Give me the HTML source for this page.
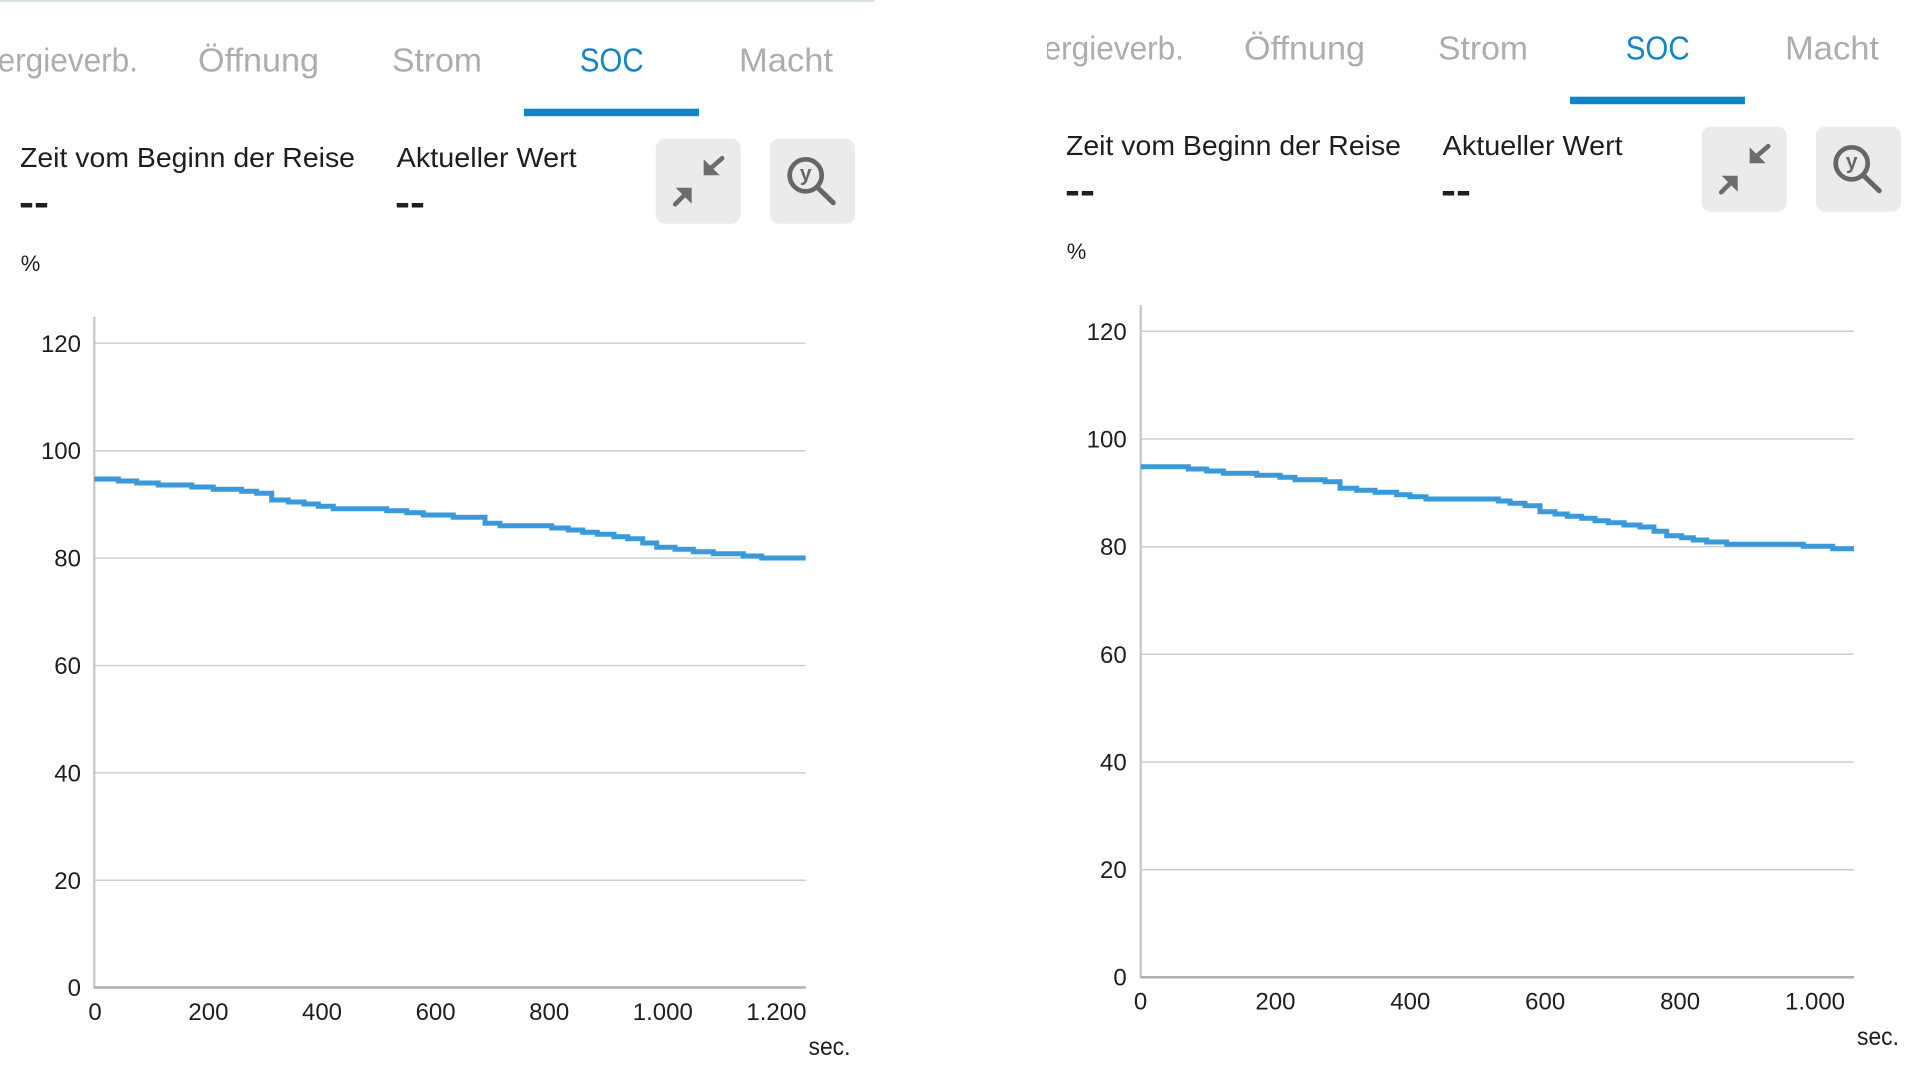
<!DOCTYPE html>
<html><head><meta charset="utf-8"><style>
html,body{margin:0;padding:0;background:#fff;}
svg{display:block;}
text{font-family:"Liberation Sans",sans-serif;}
</style></head><body>
<svg width="1920" height="1080" viewBox="0 0 1920 1080" xmlns="http://www.w3.org/2000/svg">
<defs>
<clipPath id="cl"><rect x="0" y="0" width="960" height="1080"/></clipPath>
<clipPath id="cr"><rect x="1047" y="0" width="873" height="1080"/></clipPath>
<g id="btns">
  <rect x="0" y="0" width="85" height="85" rx="9" fill="#ebebeb"/>
  <polygon points="48,20.5 48,36.5 64,36.5" fill="#6c6c6c"/>
  <line x1="52" y1="32" x2="66.5" y2="19.5" stroke="#6c6c6c" stroke-width="4.6" stroke-linecap="round"/>
  <polygon points="20,49 36,49 36,65" fill="#6c6c6c"/>
  <line x1="32" y1="53" x2="19.5" y2="65.5" stroke="#6c6c6c" stroke-width="4.6" stroke-linecap="round"/>
  <rect x="114.3" y="0" width="85" height="85" rx="9" fill="#ebebeb"/>
  <circle cx="150" cy="36.6" r="16" fill="none" stroke="#666" stroke-width="4.7"/>
  <line x1="162" y1="49" x2="177.5" y2="64" stroke="#666" stroke-width="5" stroke-linecap="round"/>
  <text x="150" y="42" font-size="21" font-weight="bold" fill="#666" text-anchor="middle">y</text>
</g>
</defs>
<rect width="1920" height="1080" fill="#fff"/>
<rect x="0" y="0" width="875" height="2" fill="#d8e6dc"/>

<!-- LEFT PANEL -->
<g clip-path="url(#cl)">
  <text x="-41" y="71.3" font-size="33" fill="#adadad" textLength="179" lengthAdjust="spacingAndGlyphs">Energieverb.</text>
  <text x="198" y="71.3" font-size="33" fill="#adadad" textLength="121" lengthAdjust="spacingAndGlyphs">Öffnung</text>
  <text x="392" y="71.3" font-size="33" fill="#adadad" textLength="90" lengthAdjust="spacingAndGlyphs">Strom</text>
  <text x="579.7" y="71.3" font-size="33" fill="#1585c6" textLength="64" lengthAdjust="spacingAndGlyphs">SOC</text>
  <text x="739" y="71.3" font-size="33" fill="#adadad" textLength="94" lengthAdjust="spacingAndGlyphs">Macht</text>
  <rect x="524" y="108.7" width="175" height="7.5" fill="#0d86c8"/>

  <text x="20" y="167" font-size="28" fill="#1e1e1e" textLength="335" lengthAdjust="spacingAndGlyphs">Zeit vom Beginn der Reise</text>
  <text x="396.7" y="167" font-size="28" fill="#1e1e1e" textLength="180" lengthAdjust="spacingAndGlyphs">Aktueller Wert</text>
  <text x="19" y="215" font-size="38" font-weight="bold" fill="#1e1e1e" textLength="30" lengthAdjust="spacingAndGlyphs">--</text>
  <text x="395" y="215" font-size="38" font-weight="bold" fill="#1e1e1e" textLength="30" lengthAdjust="spacingAndGlyphs">--</text>
  <use href="#btns" x="655.7" y="138.7"/>
  <text x="20.7" y="271" font-size="22" fill="#1e1e1e">%</text>

  <g stroke="#cfcfcf" stroke-width="1.5">
    <line x1="94.3" y1="343.3" x2="805.7" y2="343.3"/>
    <line x1="94.3" y1="450.7" x2="805.7" y2="450.7"/>
    <line x1="94.3" y1="558.1" x2="805.7" y2="558.1"/>
    <line x1="94.3" y1="665.5" x2="805.7" y2="665.5"/>
    <line x1="94.3" y1="772.9" x2="805.7" y2="772.9"/>
    <line x1="94.3" y1="880.3" x2="805.7" y2="880.3"/>
  </g>
  <line x1="94.3" y1="316.7" x2="94.3" y2="988.5" stroke="#c2c2c2" stroke-width="2"/>
  <line x1="94.3" y1="987.5" x2="805.7" y2="987.5" stroke="#aeaeae" stroke-width="2.5"/>
  <g font-size="24" fill="#1e1e1e" text-anchor="end">
    <text x="81" y="351.8">120</text>
    <text x="81" y="459.2">100</text>
    <text x="81" y="566.6">80</text>
    <text x="81" y="674">60</text>
    <text x="81" y="781.4">40</text>
    <text x="81" y="888.8">20</text>
    <text x="81" y="996">0</text>
  </g>
  <g font-size="24" fill="#1e1e1e" text-anchor="middle">
    <text x="95" y="1020">0</text>
    <text x="208.4" y="1020">200</text>
    <text x="322" y="1020">400</text>
    <text x="435.6" y="1020">600</text>
    <text x="549.2" y="1020">800</text>
    <text x="662.8" y="1020">1.000</text>
    <text x="776.4" y="1020">1.200</text>
  </g>
  <text x="808.5" y="1055" font-size="25" fill="#1e1e1e" textLength="42" lengthAdjust="spacingAndGlyphs">sec.</text>
  <path d="M94.3 479 H118.3 V481 H136.7 V483 H158.3 V485 H191.7 V487 H213.3 V489.3 H241.7 V491.3 H256.7 V493.3 H271.7 V500 H288.3 V502 H304 V504 H318.3 V506.3 H333.3 V508.7 H386.7 V510.7 H406.7 V512.7 H423.3 V515 H453.3 V517.3 H485 V523.3 H500 V525.7 H551.7 V528 H568.3 V530 H582.7 V532.3 H597.3 V534.3 H614 V536.7 H627.7 V538.7 H642.7 V543 H656.7 V547.3 H675 V549.3 H693.3 V551.7 H713.3 V553.7 H743.3 V556 H761.7 V558 H805.7" fill="none" stroke="#3a9ad9" stroke-width="5"/>
</g>

<!-- RIGHT PANEL -->
<g clip-path="url(#cr)">
  <text x="1005" y="59.3" font-size="33" fill="#adadad" textLength="179" lengthAdjust="spacingAndGlyphs">Energieverb.</text>
  <text x="1244" y="59.3" font-size="33" fill="#adadad" textLength="121" lengthAdjust="spacingAndGlyphs">Öffnung</text>
  <text x="1438" y="59.3" font-size="33" fill="#adadad" textLength="90" lengthAdjust="spacingAndGlyphs">Strom</text>
  <text x="1625.7" y="59.3" font-size="33" fill="#1585c6" textLength="64" lengthAdjust="spacingAndGlyphs">SOC</text>
  <text x="1785" y="59.3" font-size="33" fill="#adadad" textLength="94" lengthAdjust="spacingAndGlyphs">Macht</text>
  <rect x="1570" y="96.7" width="175" height="7.5" fill="#0d86c8"/>

  <text x="1066" y="155" font-size="28" fill="#1e1e1e" textLength="335" lengthAdjust="spacingAndGlyphs">Zeit vom Beginn der Reise</text>
  <text x="1442.7" y="155" font-size="28" fill="#1e1e1e" textLength="180" lengthAdjust="spacingAndGlyphs">Aktueller Wert</text>
  <text x="1065" y="203" font-size="38" font-weight="bold" fill="#1e1e1e" textLength="30" lengthAdjust="spacingAndGlyphs">--</text>
  <text x="1441" y="203" font-size="38" font-weight="bold" fill="#1e1e1e" textLength="30" lengthAdjust="spacingAndGlyphs">--</text>
  <use href="#btns" x="1701.7" y="126.7"/>
  <text x="1066.7" y="259" font-size="22" fill="#1e1e1e">%</text>

  <g stroke="#cfcfcf" stroke-width="1.5">
    <line x1="1140.7" y1="331.3" x2="1854" y2="331.3"/>
    <line x1="1140.7" y1="439" x2="1854" y2="439"/>
    <line x1="1140.7" y1="546.7" x2="1854" y2="546.7"/>
    <line x1="1140.7" y1="654.3" x2="1854" y2="654.3"/>
    <line x1="1140.7" y1="762" x2="1854" y2="762"/>
    <line x1="1140.7" y1="869.7" x2="1854" y2="869.7"/>
  </g>
  <line x1="1140.7" y1="305" x2="1140.7" y2="978.3" stroke="#c2c2c2" stroke-width="2"/>
  <line x1="1140.7" y1="977.3" x2="1854" y2="977.3" stroke="#aeaeae" stroke-width="2.5"/>
  <g font-size="24" fill="#1e1e1e" text-anchor="end">
    <text x="1126.7" y="339.8">120</text>
    <text x="1126.7" y="447.5">100</text>
    <text x="1126.7" y="555.2">80</text>
    <text x="1126.7" y="662.8">60</text>
    <text x="1126.7" y="770.5">40</text>
    <text x="1126.7" y="878.2">20</text>
    <text x="1126.7" y="985.5">0</text>
  </g>
  <g font-size="24" fill="#1e1e1e" text-anchor="middle">
    <text x="1140.5" y="1009.3">0</text>
    <text x="1275.4" y="1009.3">200</text>
    <text x="1410.3" y="1009.3">400</text>
    <text x="1545.2" y="1009.3">600</text>
    <text x="1680.1" y="1009.3">800</text>
    <text x="1815" y="1009.3">1.000</text>
  </g>
  <text x="1857" y="1045" font-size="25" fill="#1e1e1e" textLength="42" lengthAdjust="spacingAndGlyphs">sec.</text>
  <path d="M1140.7 466.7 H1188.3 V469 H1206.7 V471 H1223.3 V473.3 H1256.7 V475.3 H1280 V477.3 H1295 V479.7 H1325 V481.7 H1340 V488.3 H1356.7 V490.3 H1375 V492.3 H1396.7 V494.7 H1410 V496.7 H1426 V499 H1498.3 V501 H1510 V503.3 H1525 V505.7 H1540 V511.7 H1555 V514 H1567.3 V516.3 H1581.7 V518.3 H1595 V520.7 H1608.3 V522.7 H1624 V525 H1640 V527 H1654 V531.3 H1666.7 V535.7 H1681.7 V537.7 H1693.3 V540 H1706.7 V542 H1726.7 V544.3 H1803.3 V546.3 H1832.7 V548.7 H1854" fill="none" stroke="#3a9ad9" stroke-width="5"/>
</g>
</svg>
</body></html>
